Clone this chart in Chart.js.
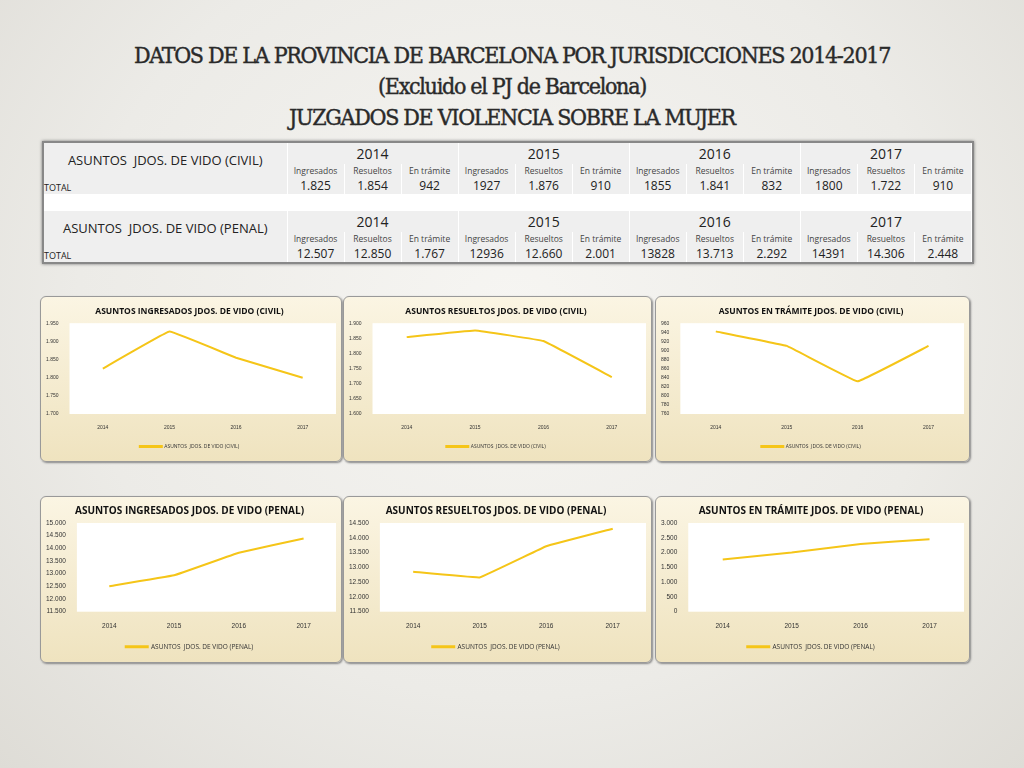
<!DOCTYPE html>
<html><head><meta charset="utf-8">
<script src="https://cdn.jsdelivr.net/npm/chart.js@4"></script>
<style>
body{margin:0;width:1024px;height:768px;overflow:hidden;background:radial-gradient(ellipse at 50% 40%,#f6f5f2 0%,#ecebe7 60%,#dedcd6 100%);font-family:"Open Sans",sans-serif;position:relative}
#title{position:absolute;top:40px;left:0;width:1024px;text-align:center;font-family:"DejaVu Serif Condensed","DejaVu Serif",serif;font-size:23px;line-height:31px;color:#2a2a2a;letter-spacing:-1.3px;-webkit-text-stroke:0.4px #2a2a2a}
#tbl{position:absolute;left:42px;top:141px;width:928px;background:#fff;box-shadow:0 0 3px #777;border:2px solid #888}
table{border-collapse:collapse;width:100%;table-layout:fixed}
td{padding:0;text-align:center;color:#222;border-right:1px solid #fff}
.h1{font-size:13px;text-align:center;background:#efefef}
.yr{font-size:14px;height:21px;background:#efefef}
.sub{font-size:8.5px;color:#444;height:13px;background:#efefef}
.tot{font-size:9px;text-align:left;background:#efefef;vertical-align:bottom}
.v{font-size:12px;height:15px;background:#efefef}
.gap td{height:17px;background:#fff}
.panel{position:absolute;border:1px solid #999;border-radius:6px;background:linear-gradient(#fbf5e3,#efe3bf);box-shadow:1px 1px 2px #888}
.panel canvas{display:block}
</style></head><body>
<div id="title">DATOS DE LA PROVINCIA DE BARCELONA POR JURISDICCIONES 2014-2017<br>(Excluido el PJ de Barcelona)<br>JUZGADOS DE VIOLENCIA SOBRE LA MUJER</div>
<div id="tbl"></div>
<script>
const years=['2014','2015','2016','2017'];
const subHeads=['Ingresados','Resueltos','En trámite'];
const civilText=['1.825','1.854','942','1927','1.876','910','1855','1.841','832','1800','1.722','910'];
const penalText=['12.507','12.850','1.767','12936','12.660','2.001','13828','13.713','2.292','14391','14.306','2.448'];
const civilIngresados=[1825,1927,1855,1800];
const civilResueltos=[1854,1876,1841,1722];
const civilTramite=[942,910,832,910];
const penalIngresados=[12507,12936,13828,14391];
const penalResueltos=[12850,12660,13713,14306];
const penalTramite=[1767,2001,2292,2448];

function block(name,vals){
  let h='<tr><td rowspan="2" class="h1">'+name+'</td>';
  years.forEach(y=>h+='<td colspan="3" class="yr">'+y+'</td>');
  h+='</tr><tr>';
  years.forEach(()=>subHeads.forEach(s=>h+='<td class="sub">'+s+'</td>'));
  h+='</tr><tr><td class="tot">TOTAL</td>';
  vals.forEach(v=>h+='<td class="v">'+v+'</td>');
  return h+'</tr>';
}
document.getElementById('tbl').innerHTML='<table><colgroup><col style="width:243px">'+'<col>'.repeat(12)+'</colgroup>'+
 block('ASUNTOS&nbsp; JDOS. DE VIDO (CIVIL)',civilText)+'<tr class="gap"><td colspan="13"></td></tr>'+block('ASUNTOS&nbsp; JDOS. DE VIDO (PENAL)',penalText)+'</table>';

const whiteArea={id:'wa',beforeDraw(c){const a=c.chartArea;c.ctx.save();c.ctx.fillStyle='#fff';c.ctx.fillRect(a.left,a.top,a.right-a.left,a.bottom-a.top);c.ctx.restore();}};
const fmt=v=>v.toLocaleString('de-DE');
function panel(x,y,w,h,title,label,data,min,max,step,big){
  const d=document.createElement('div');d.className='panel';
  Object.assign(d.style,{left:x+'px',top:y+'px',width:w+'px',height:h+'px'});
  const c=document.createElement('canvas');d.appendChild(c);document.body.appendChild(d);
  c.width=w;c.height=h;
  new Chart(c,{type:'line',data:{labels:years,datasets:[{label:label,data:data,borderColor:'#f5c518',borderWidth:2,pointRadius:0,tension:0.05}]},
   plugins:[whiteArea],
   options:{responsive:false,animation:false,layout:{padding:{left:2,right:5,top:2,bottom:2}},
    plugins:{title:{display:true,text:title,color:'#111',font:{family:'Open Sans',size:big?10:8.5,weight:'bold'},padding:{top:big?6:7,bottom:big?6:7}},
     legend:{position:'bottom',labels:{boxWidth:22,boxHeight:1,color:'#333',font:{family:'Open Sans',size:big?6.5:5}}},tooltip:{enabled:false}},
    scales:{x:{offset:true,grid:{display:false},border:{display:false},ticks:{color:'#333',font:{size:big?6.5:5}}},
     y:{min:min,max:max,grid:{display:false},border:{display:false},ticks:{autoSkip:false,stepSize:step,color:'#333',font:{size:big?6.5:5,lineHeight:1},callback:v=>fmt(v)}}}}});
}
panel(40,296,300,164,'ASUNTOS INGRESADOS JDOS. DE VIDO (CIVIL)','ASUNTOS  JDOS. DE VIDO (CIVIL)',civilIngresados,1700,1950,50,false);
panel(343,296,307,164,'ASUNTOS RESUELTOS JDOS. DE VIDO (CIVIL)','ASUNTOS  JDOS. DE VIDO (CIVIL)',civilResueltos,1600,1900,50,false);
panel(655,296,313,164,'ASUNTOS EN TRÁMITE JDOS. DE VIDO (CIVIL)','ASUNTOS  JDOS. DE VIDO (CIVIL)',civilTramite,760,960,20,false);
panel(40,496,300,165,'ASUNTOS INGRESADOS JDOS. DE VIDO (PENAL)','ASUNTOS  JDOS. DE VIDO (PENAL)',penalIngresados,11500,15000,500,true);
panel(343,496,307,165,'ASUNTOS RESUELTOS JDOS. DE VIDO (PENAL)','ASUNTOS  JDOS. DE VIDO (PENAL)',penalResueltos,11500,14500,500,true);
panel(655,496,313,165,'ASUNTOS EN TRÁMITE JDOS. DE VIDO (PENAL)','ASUNTOS  JDOS. DE VIDO (PENAL)',penalTramite,0,3000,500,true);
</script>
</body></html>
